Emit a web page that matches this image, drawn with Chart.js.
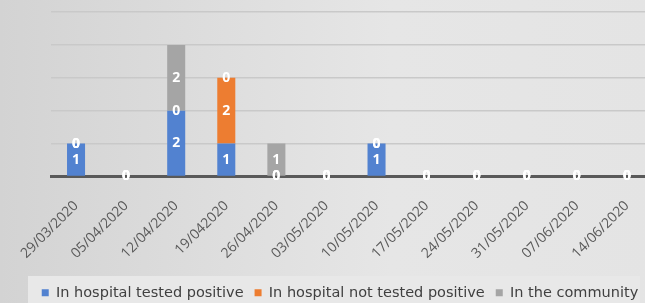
<!DOCTYPE html>
<html>
<head>
<meta charset="utf-8">
<script src="https://cdn.jsdelivr.net/npm/chart.js@4.4.1/dist/chart.umd.min.js"></script>
<style>
  html, body { margin: 0; padding: 0; overflow: hidden; background: #dcdcdc; }
  #wrap { width: 652px; height: 303px; }
</style>
</head>
<body>
<div id="wrap"><canvas id="chart"></canvas></div>
<script>
const weeks = ['29/03/2020', '05/04/2020', '12/04/2020', '19/042020', '26/04/2020', '03/05/2020',
  '10/05/2020', '17/05/2020', '24/05/2020', '31/05/2020', '07/06/2020', '14/06/2020'];
const testedPositive = [1, 0, 2, 1, 0, 0, 1, 0, 0, 0, 0, 0];
const notTestedPositive = [0, 0, 0, 2, 0, 0, 0, 0, 0, 0, 0, 0];
const community = [0, 0, 2, 0, 1, 0, 0, 0, 0, 0, 0, 0];

// gradient background + lighter box behind the legend
const backdrop = {
  id: 'backdrop',
  beforeDraw(chart) {
    const { ctx, width, height } = chart;
    ctx.save();
    const g = ctx.createLinearGradient(0, 0, width, 0);
    g.addColorStop(0, '#d3d3d3');
    g.addColorStop(0.6, '#e6e6e6');
    g.addColorStop(1, '#e4e4e4');
    ctx.fillStyle = g;
    ctx.fillRect(0, 0, width, height);
    ctx.fillStyle = '#e8e8e8';
    ctx.fillRect(28, 276, 612, height);
    ctx.restore();
  }
};

// white value labels centred in each segment
const valueLabels = {
  id: 'valueLabels',
  afterDatasetsDraw(chart) {
    const { ctx } = chart;
    ctx.save();
    ctx.font = 'bold 14px "Open Sans"';
    ctx.fillStyle = '#ffffff';
    ctx.textAlign = 'center';
    ctx.textBaseline = 'middle';
    chart.data.datasets.forEach((ds, i) => {
      chart.getDatasetMeta(i).data.forEach((bar, j) => {
        ctx.fillText(String(ds.data[j]), bar.x, (bar.y + bar.base) / 2);
      });
    });
    ctx.restore();
  }
};

new Chart(document.getElementById('chart'), {
  type: 'bar',
  data: {
    labels: weeks,
    datasets: [
      { label: 'In hospital tested positive', data: testedPositive, backgroundColor: '#5282d0' },
      { label: 'In hospital not tested positive', data: notTestedPositive, backgroundColor: '#ed7d31' },
      { label: 'In the community', data: community, backgroundColor: '#a5a5a5' }
    ]
  },
  options: {
    responsive: true,
    maintainAspectRatio: false,
    animation: false,
    layout: { padding: { left: 28, top: 12, right: 0, bottom: -7 } },
    datasets: { bar: { barPercentage: 0.45, categoryPercentage: 0.8 } },
    scales: {
      x: {
        stacked: true,
        grid: { display: false },
        border: { color: '#595959', width: 3 },
        ticks: {
          autoSkip: false, maxRotation: 45, minRotation: 45,
          color: '#595959', font: { family: 'Open Sans', size: 14 }, padding: 13
        },
        afterFit(scale) { scale.height = 98; }
      },
      y: {
        stacked: true,
        min: 0, max: 5,
        ticks: { display: false, stepSize: 1 },
        border: { display: false },
        grid: {
          color: c => c.tick.value === 0 ? 'rgba(0,0,0,0)' : '#c9c9c9',
          lineWidth: 1.5, drawTicks: false
        },
        afterFit(scale) { scale.width = 23; }
      }
    },
    plugins: {
      legend: {
        position: 'bottom',
        labels: {
          boxWidth: 7, boxHeight: 7, padding: 11,
          color: '#404040', font: { family: 'DejaVu Sans', size: 14.5 }
        }
      },
      tooltip: { enabled: false }
    }
  },
  plugins: [backdrop, valueLabels]
});
</script>
</body>
</html>
